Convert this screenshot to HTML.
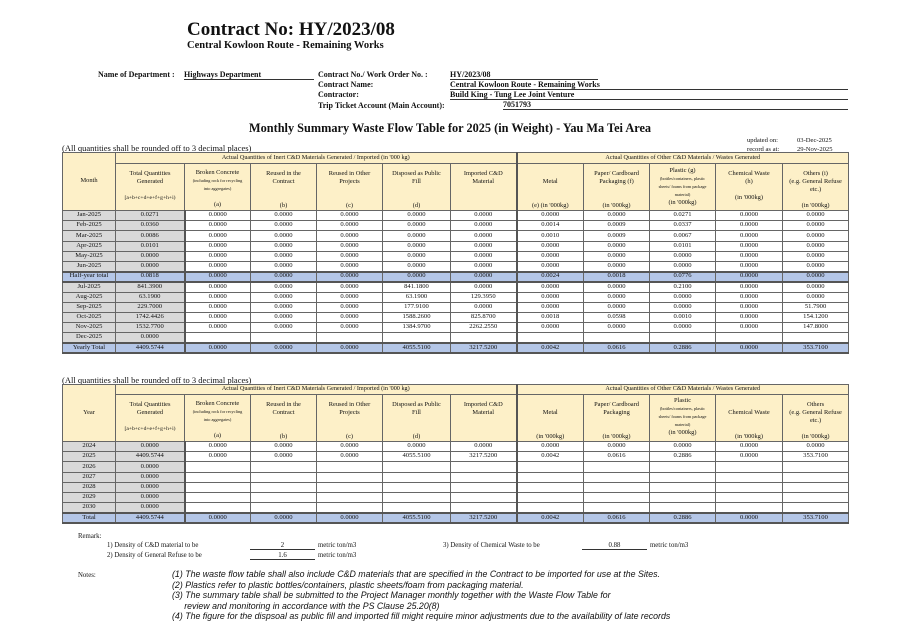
<!DOCTYPE html>
<html><head><meta charset="utf-8">
<style>
*{margin:0;padding:0;box-sizing:border-box}
body{width:910px;height:643px;background:#fff;position:relative;font-family:"Liberation Serif",serif;color:#111;overflow:hidden}
.a{position:absolute;white-space:nowrap}
.b{font-weight:bold}
table{position:absolute;border-collapse:collapse;table-layout:fixed;font-size:6.6px;font-family:"Liberation Serif",serif}
td{border:1px solid #666;text-align:center;padding:0;overflow:hidden;white-space:nowrap;line-height:1}
.hd td{background:#fdf0c8;vertical-align:top;white-space:normal;font-size:6.4px;line-height:1.25;padding-left:9px;padding-right:9px}
.hd td.w{padding-left:1px;padding-right:1px}
.band td{background:#fdf0c8;font-size:6.2px}
td.g{background:#d9d9d9;border-right:2px solid #555}
td.m{background:#d9d9d9}
tr.bl td{background:#b4c6e7;border-top:2px solid #555;border-bottom:2px solid #555}
.lx{border-left:2px solid #555}
.u{border-bottom:1px solid #333}
.n{font-family:"Liberation Sans",sans-serif;font-style:italic;font-size:8.8px}
.r{font-size:6.8px}
</style></head><body>
<div class="a b" style="left:187px;top:19px;font-size:19px">Contract No: HY/2023/08</div>
<div class="a b" style="left:187px;top:40px;font-size:10.5px">Central Kowloon Route - Remaining Works</div>
<div class="a b" style="left:98px;top:70px;font-size:8px">Name of Department :</div>
<div class="a b u" style="left:184px;top:70px;width:130px;font-size:8px">Highways Department</div>
<div class="a b" style="left:318px;top:70px;font-size:8px;line-height:10.2px">Contract No./ Work Order No. :<br>Contract Name:<br>Contractor:<br>Trip Ticket Account (Main Account):</div>
<div class="a b u" style="left:450px;top:70px;width:148px;font-size:8px">HY/2023/08</div>
<div class="a b u" style="left:450px;top:80px;width:398px;font-size:8px">Central Kowloon Route - Remaining Works</div>
<div class="a b u" style="left:450px;top:90px;width:398px;font-size:8px">Build King - Tung Lee Joint Venture</div>
<div class="a b u" style="left:503px;top:100px;width:345px;font-size:8px">7051793</div>
<div class="a b" style="left:249px;top:121px;font-size:12.3px">Monthly Summary Waste Flow Table for 2025 (in Weight) - Yau Ma Tei Area</div>
<div class="a" style="left:747px;top:136px;font-size:6.6px;line-height:9px">updated on:<br>record as at:</div>
<div class="a" style="left:797px;top:136px;font-size:6.6px;line-height:9px">03-Dec-2025<br>29-Nov-2025</div>
<div class="a" style="left:62px;top:143px;font-size:8.5px">(All quantities shall be rounded off to 3 decimal places)</div>

<table style="left:62px;top:152px;width:786px">
<colgroup><col style="width:53px"><col style="width:69px"><col style="width:66px"><col style="width:66px"><col style="width:66px"><col style="width:68px"><col style="width:66px"><col style="width:67px"><col style="width:66px"><col style="width:66px"><col style="width:67px"><col style="width:66px"></colgroup>
<tr class="band" style="height:11px"><td rowspan="2" style="background:#fdf0c8;vertical-align:middle;font-size:6.4px">Month</td><td colspan="6">Actual Quantities of Inert C&amp;D Materials Generated / Imported (in '000 kg)</td><td colspan="5" class="lx">Actual Quantities of Other C&amp;D Materials / Wastes Generated</td></tr>
<tr class="hd" style="height:46px">
<td class="w" style="padding-top:6px">Total Quantities<br>Generated<br><br><span style="font-size:5.6px">[a+b+c+d+e+f+g+h+i)</span></td>
<td class="w" style="padding-top:5px">Broken Concrete<br><span style="font-size:4.3px">(including rock for recycling<br>into aggregates)</span><br><br>(a)</td>
<td style="padding-top:6px">Reused in the Contract<br><br><br>(b)</td>
<td style="padding-top:6px">Reused in Other Projects<br><br><br>(c)</td>
<td style="padding-top:6px">Disposed as Public Fill<br><br><br>(d)</td>
<td style="padding-top:6px">Imported C&amp;D Material</td>
<td class="lx w" style="padding-top:14px">Metal<br><br><br>(e) (in '000kg)</td>
<td style="padding-top:6px">Paper/ Cardboard Packaging (f)<br><br><br>(in '000kg)</td>
<td class="w" style="padding-top:3px">Plastic (g)<br><span style="font-size:4.3px">(bottles/containers, plastic<br>sheets/ foams from package<br>material)</span><br>(in '000kg)</td>
<td style="padding-top:6px">Chemical Waste<br>(h)<br><br>(in '000kg)</td>
<td class="w" style="padding-top:6px">Others (i)<br>(e.g. General Refuse etc.)<br><br>(in '000kg)</td></tr>
<tr style="height:10.2px"><td class="m">Jan-2025</td><td class="g">0.0271</td><td>0.0000</td><td>0.0000</td><td>0.0000</td><td>0.0000</td><td>0.0000</td><td class="lx">0.0000</td><td>0.0000</td><td>0.0271</td><td>0.0000</td><td>0.0000</td></tr>
<tr style="height:10.2px"><td class="m">Feb-2025</td><td class="g">0.0360</td><td>0.0000</td><td>0.0000</td><td>0.0000</td><td>0.0000</td><td>0.0000</td><td class="lx">0.0014</td><td>0.0009</td><td>0.0337</td><td>0.0000</td><td>0.0000</td></tr>
<tr style="height:10.2px"><td class="m">Mar-2025</td><td class="g">0.0086</td><td>0.0000</td><td>0.0000</td><td>0.0000</td><td>0.0000</td><td>0.0000</td><td class="lx">0.0010</td><td>0.0009</td><td>0.0067</td><td>0.0000</td><td>0.0000</td></tr>
<tr style="height:10.2px"><td class="m">Apr-2025</td><td class="g">0.0101</td><td>0.0000</td><td>0.0000</td><td>0.0000</td><td>0.0000</td><td>0.0000</td><td class="lx">0.0000</td><td>0.0000</td><td>0.0101</td><td>0.0000</td><td>0.0000</td></tr>
<tr style="height:10.2px"><td class="m">May-2025</td><td class="g">0.0000</td><td>0.0000</td><td>0.0000</td><td>0.0000</td><td>0.0000</td><td>0.0000</td><td class="lx">0.0000</td><td>0.0000</td><td>0.0000</td><td>0.0000</td><td>0.0000</td></tr>
<tr style="height:10.2px"><td class="m">Jun-2025</td><td class="g">0.0000</td><td>0.0000</td><td>0.0000</td><td>0.0000</td><td>0.0000</td><td>0.0000</td><td class="lx">0.0000</td><td>0.0000</td><td>0.0000</td><td>0.0000</td><td>0.0000</td></tr>
<tr class="bl" style="height:10.2px"><td>Half-year total</td><td class="g" style="background:#b4c6e7">0.0818</td><td>0.0000</td><td>0.0000</td><td>0.0000</td><td>0.0000</td><td>0.0000</td><td class="lx">0.0024</td><td>0.0018</td><td>0.0776</td><td>0.0000</td><td>0.0000</td></tr>
<tr style="height:10.2px"><td class="m">Jul-2025</td><td class="g">841.3900</td><td>0.0000</td><td>0.0000</td><td>0.0000</td><td>841.1800</td><td>0.0000</td><td class="lx">0.0000</td><td>0.0000</td><td>0.2100</td><td>0.0000</td><td>0.0000</td></tr>
<tr style="height:10.2px"><td class="m">Aug-2025</td><td class="g">63.1900</td><td>0.0000</td><td>0.0000</td><td>0.0000</td><td>63.1900</td><td>129.3950</td><td class="lx">0.0000</td><td>0.0000</td><td>0.0000</td><td>0.0000</td><td>0.0000</td></tr>
<tr style="height:10.2px"><td class="m">Sep-2025</td><td class="g">229.7000</td><td>0.0000</td><td>0.0000</td><td>0.0000</td><td>177.9100</td><td>0.0000</td><td class="lx">0.0000</td><td>0.0000</td><td>0.0000</td><td>0.0000</td><td>51.7900</td></tr>
<tr style="height:10.2px"><td class="m">Oct-2025</td><td class="g">1742.4426</td><td>0.0000</td><td>0.0000</td><td>0.0000</td><td>1588.2600</td><td>825.8700</td><td class="lx">0.0018</td><td>0.0598</td><td>0.0010</td><td>0.0000</td><td>154.1200</td></tr>
<tr style="height:10.2px"><td class="m">Nov-2025</td><td class="g">1532.7700</td><td>0.0000</td><td>0.0000</td><td>0.0000</td><td>1384.9700</td><td>2262.2550</td><td class="lx">0.0000</td><td>0.0000</td><td>0.0000</td><td>0.0000</td><td>147.8000</td></tr>
<tr style="height:10.2px"><td class="m">Dec-2025</td><td class="g">0.0000</td><td></td><td></td><td></td><td></td><td></td><td class="lx"></td><td></td><td></td><td></td><td></td></tr>
<tr class="bl" style="height:10.2px"><td>Yearly Total</td><td class="g" style="background:#b4c6e7">4409.5744</td><td>0.0000</td><td>0.0000</td><td>0.0000</td><td>4055.5100</td><td>3217.5200</td><td class="lx">0.0042</td><td>0.0616</td><td>0.2886</td><td>0.0000</td><td>353.7100</td></tr>
</table>

<div class="a" style="left:62px;top:375px;font-size:8.5px">(All quantities shall be rounded off to 3 decimal places)</div>
<table style="left:62px;top:384px;width:786px">
<colgroup><col style="width:53px"><col style="width:69px"><col style="width:66px"><col style="width:66px"><col style="width:66px"><col style="width:68px"><col style="width:66px"><col style="width:67px"><col style="width:66px"><col style="width:66px"><col style="width:67px"><col style="width:66px"></colgroup>
<tr class="band" style="height:10px"><td rowspan="2" style="background:#fdf0c8;vertical-align:middle;font-size:6.4px">Year</td><td colspan="6">Actual Quantities of Inert C&amp;D Materials Generated / Imported (in '000 kg)</td><td colspan="5" class="lx">Actual Quantities of Other C&amp;D Materials / Wastes Generated</td></tr>
<tr class="hd" style="height:44px">
<td class="w" style="padding-top:6px">Total Quantities<br>Generated<br><br><span style="font-size:5.6px">[a+b+c+d+e+f+g+h+i)</span></td>
<td class="w" style="padding-top:5px">Broken Concrete<br><span style="font-size:4.3px">(including rock for recycling<br>into aggregates)</span><br><br>(a)</td>
<td style="padding-top:6px">Reused in the Contract<br><br><br>(b)</td>
<td style="padding-top:6px">Reused in Other Projects<br><br><br>(c)</td>
<td style="padding-top:6px">Disposed as Public Fill<br><br><br>(d)</td>
<td style="padding-top:6px">Imported C&amp;D Material</td>
<td class="lx" style="padding-top:14px">Metal<br><br><br>(in '000kg)</td>
<td style="padding-top:6px">Paper/ Cardboard Packaging<br><br><br>(in '000kg)</td>
<td class="w" style="padding-top:2px">Plastic<br><span style="font-size:4.3px">(bottles/containers, plastic<br>sheets/ foams from package<br>material)</span><br>(in '000kg)</td>
<td class="w" style="padding-top:14px">Chemical Waste<br><br><br>(in '000kg)</td>
<td class="w" style="padding-top:6px">Others<br>(e.g. General Refuse etc.)<br><br>(in '000kg)</td></tr>
<tr style="height:10.2px"><td class="m">2024</td><td class="g">0.0000</td><td>0.0000</td><td>0.0000</td><td>0.0000</td><td>0.0000</td><td>0.0000</td><td class="lx">0.0000</td><td>0.0000</td><td>0.0000</td><td>0.0000</td><td>0.0000</td></tr>
<tr style="height:10.2px"><td class="m">2025</td><td class="g">4409.5744</td><td>0.0000</td><td>0.0000</td><td>0.0000</td><td>4055.5100</td><td>3217.5200</td><td class="lx">0.0042</td><td>0.0616</td><td>0.2886</td><td>0.0000</td><td>353.7100</td></tr>
<tr style="height:10.2px"><td class="m">2026</td><td class="g">0.0000</td><td></td><td></td><td></td><td></td><td></td><td class="lx"></td><td></td><td></td><td></td><td></td></tr>
<tr style="height:10.2px"><td class="m">2027</td><td class="g">0.0000</td><td></td><td></td><td></td><td></td><td></td><td class="lx"></td><td></td><td></td><td></td><td></td></tr>
<tr style="height:10.2px"><td class="m">2028</td><td class="g">0.0000</td><td></td><td></td><td></td><td></td><td></td><td class="lx"></td><td></td><td></td><td></td><td></td></tr>
<tr style="height:10.2px"><td class="m">2029</td><td class="g">0.0000</td><td></td><td></td><td></td><td></td><td></td><td class="lx"></td><td></td><td></td><td></td><td></td></tr>
<tr style="height:10.2px"><td class="m">2030</td><td class="g">0.0000</td><td></td><td></td><td></td><td></td><td></td><td class="lx"></td><td></td><td></td><td></td><td></td></tr>
<tr class="bl" style="height:10.2px"><td>Total</td><td class="g" style="background:#b4c6e7">4409.5744</td><td>0.0000</td><td>0.0000</td><td>0.0000</td><td>4055.5100</td><td>3217.5200</td><td class="lx">0.0042</td><td>0.0616</td><td>0.2886</td><td>0.0000</td><td>353.7100</td></tr>
</table>

<div class="a r" style="left:78px;top:533px">Remark:</div>
<div class="a r" style="left:107px;top:542px">1) Density of C&amp;D material to be</div>
<div class="a r u" style="left:250px;top:542px;width:65px;text-align:center">2</div>
<div class="a r" style="left:318px;top:542px">metric ton/m3</div>
<div class="a r" style="left:107px;top:552px">2) Density of General Refuse to be</div>
<div class="a r u" style="left:250px;top:552px;width:65px;text-align:center">1.6</div>
<div class="a r" style="left:318px;top:552px">metric ton/m3</div>
<div class="a r" style="left:443px;top:542px">3) Density of Chemical Waste to be</div>
<div class="a r u" style="left:582px;top:542px;width:65px;text-align:center">0.88</div>
<div class="a r" style="left:650px;top:542px">metric ton/m3</div>
<div class="a r" style="left:78px;top:572px">Notes:</div>
<div class="a n" style="left:172px;top:569px;line-height:10.5px">(1) The waste flow table shall also include C&amp;D materials that are specified in the Contract to be imported for use at the Sites.<br>(2) Plastics refer to plastic bottles/containers, plastic sheets/foam from packaging material.<br>(3) The summary table shall be submitted to the Project Manager monthly together with the Waste Flow Table for<br>&nbsp;&nbsp;&nbsp;&nbsp;&nbsp;review and monitoring in accordance with the PS Clause 25.20(8)<br>(4) The figure for the dispsoal as public fill and imported fill might require minor adjustments due to the availability of late records</div>
</body></html>
